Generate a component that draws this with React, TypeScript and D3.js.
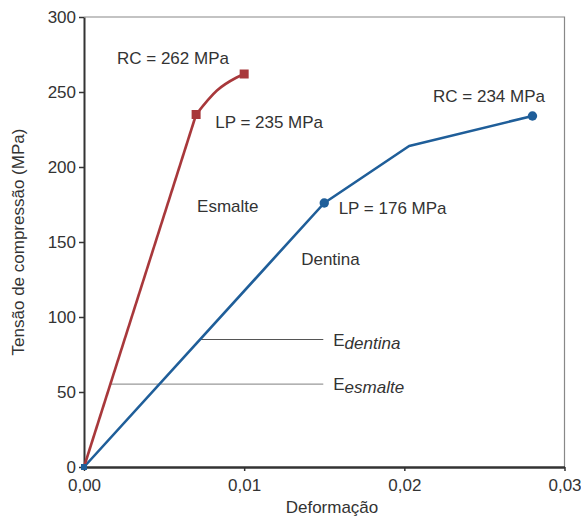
import React, { useEffect, useRef } from "react";
import * as d3 from "d3";

const xTicks = [0, 0.01, 0.02, 0.03];
const yTicks = [0, 50, 100, 150, 200, 250, 300];

// Esmalte (enamel): linear part, then curved part up to rupture
const esmalteLinear: [number, number][] = [[0, 0], [0.007, 235]];
const esmalteCurve: [number, number][] = [[0.007, 235], [0.0083, 251], [0.0095, 259.5], [0.01, 262]];
const esmalteMarkers: [number, number][] = [[0.007, 235], [0.01, 262]];

// Dentina (dentin)
const dentina: [number, number][] = [[0, 0], [0.015, 176], [0.0203, 214], [0.028, 234]];
const dentinaMarkers: [number, number][] = [[0.015, 176], [0.028, 234]];
const originMarker: [number, number] = [0, 0];

// Modulus guide lines
const eDentina = { x0: 0.00724, x1: 0.01494, y: 85 };
const eEsmalte = { x0: 0.00164, x1: 0.01494, y: 55.3 };

const annotations = [
  { text: "RC = 262 MPa", x: 0.00206, y: 269 },
  { text: "LP = 235 MPa", x: 0.00819, y: 226.3 },
  { text: "Esmalte", x: 0.00706, y: 170 },
  { text: "RC = 234 MPa", x: 0.02179, y: 243.3 },
  { text: "LP = 176 MPa", x: 0.0159, y: 168.7 },
  { text: "Dentina", x: 0.01356, y: 134.7 },
];

const RED = "#A8383B";
const BLUE = "#1F5E99";
const FONT = "'Liberation Sans', Arial, sans-serif";

export default function App() {
  const ref = useRef<SVGSVGElement>(null);
  useEffect(() => {
    const svg = d3.select(ref.current);
    svg.selectAll("*").remove();
    const W = 581, H = 518;
    const x = d3.scaleLinear().domain([0, 0.03]).range([84, 564.5]);
    const y = d3.scaleLinear().domain([0, 300]).range([467, 17]);
    const fmt = (d: number) => d3.format(".2f")(d).replace(".", ",");

    svg.append("rect").attr("width", W).attr("height", H).attr("fill", "#fff");

    // top & right frame
    svg.append("path")
      .attr("d", `M${x(0)},${y(300)}H${x(0.03)}V${y(0)}`)
      .attr("fill", "none").attr("stroke", "#888").attr("stroke-width", 1.2);

    // y axis
    const ya = svg.append("g").attr("transform", `translate(${x(0)},0)`)
      .call(d3.axisLeft(y).tickValues(yTicks).tickSize(5).tickSizeOuter(0).tickPadding(3));
    ya.select(".domain").attr("stroke", "#333").attr("stroke-width", 2);
    ya.selectAll(".tick line").attr("stroke", "#333").attr("stroke-width", 1.5);
    ya.selectAll("text").attr("font-family", FONT).attr("font-size", 17).attr("fill", "#333");

    // x axis
    const xa = svg.append("g").attr("transform", `translate(0,${y(0)})`)
      .call(d3.axisBottom(x).tickValues(xTicks).tickFormat(fmt as any).tickSize(4).tickSizeOuter(0).tickPadding(8));
    xa.select(".domain").attr("stroke", "#333").attr("stroke-width", 2.5);
    xa.selectAll(".tick line").attr("stroke", "#333").attr("stroke-width", 1.5);
    xa.selectAll("text").attr("font-family", FONT).attr("font-size", 17).attr("fill", "#333");

    // axis titles
    svg.append("text")
      .attr("transform", `translate(24,${(y(0) + y(300)) / 2}) rotate(-90)`)
      .attr("text-anchor", "middle").attr("font-family", FONT).attr("font-size", 17).attr("fill", "#333")
      .text("Tensão de compressão (MPa)");
    svg.append("text")
      .attr("x", 332).attr("y", 513)
      .attr("text-anchor", "middle").attr("font-family", FONT).attr("font-size", 17).attr("fill", "#333")
      .text("Deformação");

    // modulus guide lines
    svg.append("line").attr("x1", x(eDentina.x0)).attr("x2", x(eDentina.x1))
      .attr("y1", y(eDentina.y)).attr("y2", y(eDentina.y)).attr("stroke", "#555").attr("stroke-width", 1.2);
    svg.append("line").attr("x1", x(eEsmalte.x0)).attr("x2", x(eEsmalte.x1))
      .attr("y1", y(eEsmalte.y)).attr("y2", y(eEsmalte.y)).attr("stroke", "#999").attr("stroke-width", 1.2);

    const eLabel = (yv: number, sub: string) => {
      const t = svg.append("text").attr("x", x(0.01556)).attr("y", y(yv) + 6)
        .attr("font-family", FONT).attr("font-size", 17).attr("fill", "#333");
      t.append("tspan").text("E");
      t.append("tspan").attr("dy", 3).attr("font-style", "italic").text(sub);
    };
    eLabel(eDentina.y, "dentina");
    eLabel(eEsmalte.y, "esmalte");

    const line = d3.line<[number, number]>().x(d => x(d[0])).y(d => y(d[1]));
    const curve = d3.line<[number, number]>().x(d => x(d[0])).y(d => y(d[1])).curve(d3.curveMonotoneX);

    // dentina
    svg.append("path").attr("d", line(dentina)).attr("fill", "none")
      .attr("stroke", BLUE).attr("stroke-width", 2.6).attr("stroke-linejoin", "round");
    // esmalte
    svg.append("path").attr("d", line(esmalteLinear)).attr("fill", "none")
      .attr("stroke", RED).attr("stroke-width", 2.6);
    svg.append("path").attr("d", curve(esmalteCurve)).attr("fill", "none")
      .attr("stroke", RED).attr("stroke-width", 2.6);

    svg.selectAll(".sq").data(esmalteMarkers).enter().append("rect")
      .attr("x", d => x(d[0]) - 4.5).attr("y", d => y(d[1]) - 4.5)
      .attr("width", 9).attr("height", 9).attr("fill", RED);
    svg.selectAll(".ci").data(dentinaMarkers).enter().append("circle")
      .attr("cx", d => x(d[0])).attr("cy", d => y(d[1])).attr("r", 4.7).attr("fill", BLUE);
    svg.append("rect").attr("x", x(originMarker[0]) - 3).attr("y", y(originMarker[1]) - 3)
      .attr("width", 6).attr("height", 6).attr("fill", BLUE);

    svg.selectAll(".ann").data(annotations).enter().append("text")
      .attr("x", d => x(d.x)).attr("y", d => y(d.y))
      .attr("font-family", FONT).attr("font-size", 17).attr("fill", "#333")
      .text(d => d.text);
  }, []);
  return (
    <svg ref={ref} width={581} height={518}
      style={{ position: "absolute", left: 0, top: 0, display: "block" }} />
  );
}
